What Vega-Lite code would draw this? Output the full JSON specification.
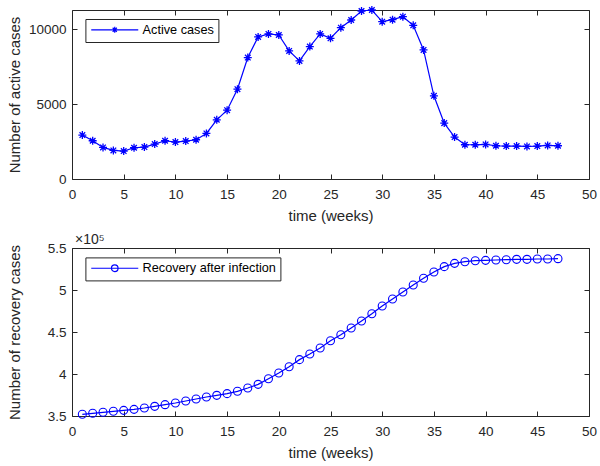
{
  "$schema": "https://vega.github.io/schema/vega-lite/v6.json",
  "background": "white",
  "padding": {"left": 6, "top": 2, "right": 12, "bottom": 6},
  "data": {"values": [
    {"week": 1, "active": 2933, "recovered": 352000},
    {"week": 2, "active": 2556, "recovered": 353200},
    {"week": 3, "active": 2111, "recovered": 354400},
    {"week": 4, "active": 1911, "recovered": 355600},
    {"week": 5, "active": 1867, "recovered": 356700},
    {"week": 6, "active": 2089, "recovered": 357900},
    {"week": 7, "active": 2133, "recovered": 359500},
    {"week": 8, "active": 2333, "recovered": 361500},
    {"week": 9, "active": 2556, "recovered": 363500},
    {"week": 10, "active": 2467, "recovered": 365500},
    {"week": 11, "active": 2533, "recovered": 367900},
    {"week": 12, "active": 2622, "recovered": 370200},
    {"week": 13, "active": 3044, "recovered": 372600},
    {"week": 14, "active": 3956, "recovered": 374600},
    {"week": 15, "active": 4600, "recovered": 376600},
    {"week": 16, "active": 6000, "recovered": 379400},
    {"week": 17, "active": 8111, "recovered": 383300},
    {"week": 18, "active": 9489, "recovered": 387700},
    {"week": 19, "active": 9689, "recovered": 394400},
    {"week": 20, "active": 9622, "recovered": 401200},
    {"week": 21, "active": 8556, "recovered": 408700},
    {"week": 22, "active": 7889, "recovered": 417100},
    {"week": 23, "active": 8844, "recovered": 423800},
    {"week": 24, "active": 9689, "recovered": 431000},
    {"week": 25, "active": 9400, "recovered": 439500},
    {"week": 26, "active": 10111, "recovered": 446800},
    {"week": 27, "active": 10622, "recovered": 454800},
    {"week": 28, "active": 11222, "recovered": 463100},
    {"week": 29, "active": 11289, "recovered": 471800},
    {"week": 30, "active": 10511, "recovered": 481000},
    {"week": 31, "active": 10644, "recovered": 489300},
    {"week": 32, "active": 10844, "recovered": 497600},
    {"week": 33, "active": 10267, "recovered": 506000},
    {"week": 34, "active": 8622, "recovered": 513900},
    {"week": 35, "active": 5556, "recovered": 521400},
    {"week": 36, "active": 3733, "recovered": 527800},
    {"week": 37, "active": 2800, "recovered": 531700},
    {"week": 38, "active": 2289, "recovered": 533700},
    {"week": 39, "active": 2289, "recovered": 534900},
    {"week": 40, "active": 2311, "recovered": 535300},
    {"week": 41, "active": 2222, "recovered": 535700},
    {"week": 42, "active": 2200, "recovered": 536100},
    {"week": 43, "active": 2200, "recovered": 536500},
    {"week": 44, "active": 2178, "recovered": 536500},
    {"week": 45, "active": 2200, "recovered": 536900},
    {"week": 46, "active": 2244, "recovered": 536900},
    {"week": 47, "active": 2222, "recovered": 537300}
  ]},
  "spacing": 69,
  "bounds": "flush",
  "resolve": {"scale": {"color": "independent"}, "legend": {"color": "independent"}},
  "vconcat": [
    {
      "width": 517,
      "height": 169,
      "layer": [
        {
          "mark": {"type": "line", "color": "#0000ff", "strokeWidth": 1.2},
          "encoding": {
            "x": {"field": "week", "type": "quantitative", "scale": {"domain": [0, 50], "nice": false},
              "axis": {"orient": "bottom", "values": [0, 5, 10, 15, 20, 25, 30, 35, 40, 45, 50], "title": "time (weeks)", "labelFlush": false, "labelPadding": 13, "titleY": 36, "titleBaseline": "middle"}},
            "y": {"field": "active", "type": "quantitative", "scale": {"domain": [0, 11290], "nice": false},
              "axis": {"orient": "left", "values": [0, 5000, 10000], "format": "d", "title": "Number of active cases", "labelPadding": 11, "titleX": -49.5}}
          }
        },
        {
          "mark": {"type": "point", "shape": "M-1,0L1,0M0,-1L0,1M-0.7,-0.7L0.7,0.7M-0.7,0.7L0.7,-0.7", "size": 64, "filled": false, "strokeWidth": 1.3, "opacity": 1},
          "encoding": {
            "x": {"field": "week", "type": "quantitative", "scale": {"domain": [0, 50], "nice": false},
              "axis": {"orient": "top", "values": [0, 5, 10, 15, 20, 25, 30, 35, 40, 45, 50], "labels": false, "title": null}},
            "y": {"field": "active", "type": "quantitative", "scale": {"domain": [0, 11290], "nice": false},
              "axis": {"orient": "right", "values": [0, 5000, 10000], "labels": false, "title": null}},
            "color": {"datum": "Active cases", "scale": {"range": ["#0000ff"]},
              "legend": {"orient": "none", "legendX": 13.4, "legendY": 9, "title": null,
                "symbolType": "M-1,0L8.4,0M3.1,0L4.3,0M3.7,-0.6L3.7,0.6M3.28,-0.42L4.12,0.42M3.28,0.42L4.12,-0.42",
                "symbolSize": 100, "symbolStrokeWidth": 1.2, "symbolStrokeColor": "#0000ff", "symbolFillColor": "transparent",
                "labelFontSize": 12.7, "labelFont": "Liberation Sans", "labelColor": "#000000", "labelOffset": 40,
                "padding": 4.5, "strokeColor": "#262626", "fillColor": "white", "cornerRadius": 0}}
          }
        }
      ],
      "resolve": {"axis": {"x": "independent", "y": "independent"}}
    },
    {
      "width": 517,
      "height": 168,
      "title": {"text": "×10⁵", "anchor": "start", "frame": "group", "offset": 2, "dx": 3, "dy": 8, "fontSize": 14, "fontWeight": "normal", "color": "#262626", "font": "Liberation Sans"},
      "layer": [
        {
          "mark": {"type": "line", "color": "#0000ff", "strokeWidth": 1.2},
          "encoding": {
            "x": {"field": "week", "type": "quantitative", "scale": {"domain": [0, 50], "nice": false},
              "axis": {"orient": "bottom", "values": [0, 5, 10, 15, 20, 25, 30, 35, 40, 45, 50], "title": "time (weeks)", "labelFlush": false, "labelPadding": 13, "titleY": 36, "titleBaseline": "middle"}},
            "y": {"field": "recovered", "type": "quantitative", "scale": {"domain": [350000, 550000], "nice": false, "zero": false},
              "axis": {"orient": "left", "values": [350000, 400000, 450000, 500000, 550000], "labelExpr": "format(datum.value/100000, '~g')", "title": "Number of recovery cases", "labelPadding": 11, "titleX": -49.5}}
          }
        },
        {
          "mark": {"type": "point", "shape": "circle", "size": 64, "filled": false, "strokeWidth": 1.1, "opacity": 1},
          "encoding": {
            "x": {"field": "week", "type": "quantitative", "scale": {"domain": [0, 50], "nice": false},
              "axis": {"orient": "top", "values": [0, 5, 10, 15, 20, 25, 30, 35, 40, 45, 50], "labels": false, "title": null}},
            "y": {"field": "recovered", "type": "quantitative", "scale": {"domain": [350000, 550000], "nice": false, "zero": false},
              "axis": {"orient": "right", "values": [350000, 400000, 450000, 500000, 550000], "labels": false, "title": null}},
            "color": {"datum": "Recovery after infection", "scale": {"range": ["#0000ff"]},
              "legend": {"orient": "none", "legendX": 13.4, "legendY": 9.4, "title": null,
                "symbolType": "M-1,0L8.4,0M4.36,0A0.66,0.66 0 1,1 3.04,0A0.66,0.66 0 1,1 4.36,0",
                "symbolSize": 100, "symbolStrokeWidth": 1.2, "symbolStrokeColor": "#0000ff", "symbolFillColor": "transparent",
                "labelFontSize": 12.7, "labelFont": "Liberation Sans", "labelColor": "#000000", "labelOffset": 40,
                "padding": 4.5, "strokeColor": "#262626", "fillColor": "white", "cornerRadius": 0}}
          }
        }
      ],
      "resolve": {"axis": {"x": "independent", "y": "independent"}}
    }
  ],
  "config": {
    "font": "Liberation Sans",
    "view": {"stroke": "#262626", "strokeWidth": 1},
    "axis": {"domain": false, "grid": false, "tickSize": -5, "tickColor": "#262626", "tickWidth": 1,
      "labelColor": "#262626", "labelFontSize": 13.5, "labelFont": "Liberation Sans",
      "titleColor": "#262626", "titleFontSize": 15, "titleFontWeight": "normal", "titleFont": "Liberation Sans",
      "labelOverlap": false}
  }
}
